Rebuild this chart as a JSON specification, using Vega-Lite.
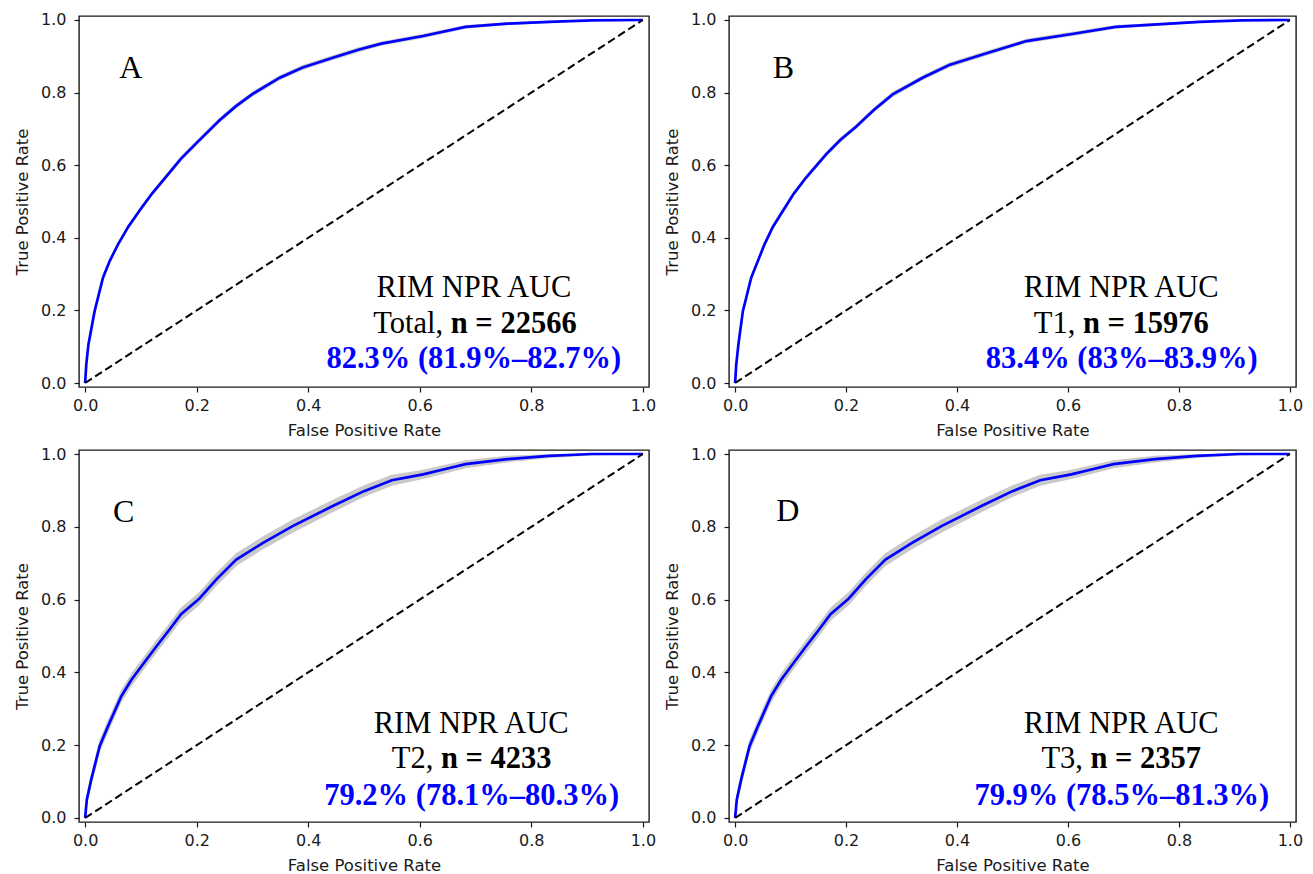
{
  "$schema": "https://vega.github.io/schema/vega-lite/v6.json",
  "background": "white",
  "padding": {"left": 13, "top": 11, "right": 5, "bottom": 5},
  "bounds": "flush",
  "columns": 2,
  "spacing": {"row": 63, "column": 80},
  "config": {
    "font": "DejaVu Sans",
    "view": {"stroke": "#1a1a1a", "strokeWidth": 1.4},
    "axis": {"grid": false, "domain": false, "ticks": true, "tickColor": "#1a1a1a", "tickSize": 5, "tickWidth": 1.2, "labelFont": "DejaVu Sans", "labelFontSize": 16, "labelColor": "#1a1a1a", "labelFlush": false, "labelOverlap": false, "titleFont": "DejaVu Sans", "titleFontSize": 16.5, "titleFontWeight": "normal", "titleColor": "#1a1a1a"},
    "axisX": {"labelPadding": 5, "titlePadding": 9},
    "axisY": {"labelPadding": 8, "titlePadding": 10},
    "text": {"font": "Liberation Serif"}
  },
  "datasets": {
    "roc": [
      {"panel": "A", "fpr": 0, "tpr": 0, "lo": 0, "hi": 0.005},
      {"panel": "A", "fpr": 0.002, "tpr": 0.05, "lo": 0.043, "hi": 0.057},
      {"panel": "A", "fpr": 0.006, "tpr": 0.107, "lo": 0.1, "hi": 0.114},
      {"panel": "A", "fpr": 0.017, "tpr": 0.198, "lo": 0.191, "hi": 0.205},
      {"panel": "A", "fpr": 0.032, "tpr": 0.29, "lo": 0.283, "hi": 0.297},
      {"panel": "A", "fpr": 0.044, "tpr": 0.336, "lo": 0.329, "hi": 0.343},
      {"panel": "A", "fpr": 0.059, "tpr": 0.382, "lo": 0.375, "hi": 0.389},
      {"panel": "A", "fpr": 0.078, "tpr": 0.432, "lo": 0.425, "hi": 0.439},
      {"panel": "A", "fpr": 0.098, "tpr": 0.476, "lo": 0.469, "hi": 0.483},
      {"panel": "A", "fpr": 0.12, "tpr": 0.522, "lo": 0.515, "hi": 0.529},
      {"panel": "A", "fpr": 0.146, "tpr": 0.57, "lo": 0.563, "hi": 0.577},
      {"panel": "A", "fpr": 0.172, "tpr": 0.618, "lo": 0.611, "hi": 0.625},
      {"panel": "A", "fpr": 0.199, "tpr": 0.66, "lo": 0.653, "hi": 0.667},
      {"panel": "A", "fpr": 0.241, "tpr": 0.724, "lo": 0.717, "hi": 0.731},
      {"panel": "A", "fpr": 0.27, "tpr": 0.762, "lo": 0.755, "hi": 0.769},
      {"panel": "A", "fpr": 0.301, "tpr": 0.797, "lo": 0.79, "hi": 0.804},
      {"panel": "A", "fpr": 0.349, "tpr": 0.841, "lo": 0.834, "hi": 0.848},
      {"panel": "A", "fpr": 0.39, "tpr": 0.869, "lo": 0.862, "hi": 0.876},
      {"panel": "A", "fpr": 0.444, "tpr": 0.896, "lo": 0.889, "hi": 0.903},
      {"panel": "A", "fpr": 0.49, "tpr": 0.918, "lo": 0.911, "hi": 0.925},
      {"panel": "A", "fpr": 0.531, "tpr": 0.935, "lo": 0.929, "hi": 0.941},
      {"panel": "A", "fpr": 0.606, "tpr": 0.956, "lo": 0.95, "hi": 0.962},
      {"panel": "A", "fpr": 0.682, "tpr": 0.981, "lo": 0.976, "hi": 0.986},
      {"panel": "A", "fpr": 0.757, "tpr": 0.99, "lo": 0.986, "hi": 0.994},
      {"panel": "A", "fpr": 0.832, "tpr": 0.995, "lo": 0.992, "hi": 0.998},
      {"panel": "A", "fpr": 0.908, "tpr": 0.999, "lo": 0.997, "hi": 1.0},
      {"panel": "A", "fpr": 1, "tpr": 1, "lo": 1, "hi": 1},
      {"panel": "B", "fpr": 0, "tpr": 0, "lo": 0, "hi": 0.005},
      {"panel": "B", "fpr": 0.002, "tpr": 0.05, "lo": 0.043, "hi": 0.057},
      {"panel": "B", "fpr": 0.006, "tpr": 0.107, "lo": 0.1, "hi": 0.114},
      {"panel": "B", "fpr": 0.014, "tpr": 0.198, "lo": 0.191, "hi": 0.205},
      {"panel": "B", "fpr": 0.029, "tpr": 0.29, "lo": 0.283, "hi": 0.297},
      {"panel": "B", "fpr": 0.053, "tpr": 0.382, "lo": 0.375, "hi": 0.389},
      {"panel": "B", "fpr": 0.068, "tpr": 0.43, "lo": 0.423, "hi": 0.437},
      {"panel": "B", "fpr": 0.086, "tpr": 0.474, "lo": 0.467, "hi": 0.481},
      {"panel": "B", "fpr": 0.105, "tpr": 0.52, "lo": 0.513, "hi": 0.527},
      {"panel": "B", "fpr": 0.128, "tpr": 0.566, "lo": 0.559, "hi": 0.573},
      {"panel": "B", "fpr": 0.164, "tpr": 0.63, "lo": 0.623, "hi": 0.637},
      {"panel": "B", "fpr": 0.19, "tpr": 0.67, "lo": 0.663, "hi": 0.677},
      {"panel": "B", "fpr": 0.218, "tpr": 0.706, "lo": 0.699, "hi": 0.713},
      {"panel": "B", "fpr": 0.25, "tpr": 0.752, "lo": 0.745, "hi": 0.759},
      {"panel": "B", "fpr": 0.284, "tpr": 0.795, "lo": 0.788, "hi": 0.802},
      {"panel": "B", "fpr": 0.338, "tpr": 0.841, "lo": 0.834, "hi": 0.848},
      {"panel": "B", "fpr": 0.386, "tpr": 0.876, "lo": 0.869, "hi": 0.883},
      {"panel": "B", "fpr": 0.446, "tpr": 0.905, "lo": 0.898, "hi": 0.912},
      {"panel": "B", "fpr": 0.525, "tpr": 0.942, "lo": 0.936, "hi": 0.948},
      {"panel": "B", "fpr": 0.61, "tpr": 0.962, "lo": 0.956, "hi": 0.968},
      {"panel": "B", "fpr": 0.686, "tpr": 0.981, "lo": 0.976, "hi": 0.986},
      {"panel": "B", "fpr": 0.761, "tpr": 0.988, "lo": 0.984, "hi": 0.992},
      {"panel": "B", "fpr": 0.837, "tpr": 0.995, "lo": 0.992, "hi": 0.998},
      {"panel": "B", "fpr": 0.913, "tpr": 0.999, "lo": 0.997, "hi": 1.0},
      {"panel": "B", "fpr": 1, "tpr": 1, "lo": 1, "hi": 1},
      {"panel": "C", "fpr": 0, "tpr": 0, "lo": 0, "hi": 0.012},
      {"panel": "C", "fpr": 0.003, "tpr": 0.05, "lo": 0.032, "hi": 0.068},
      {"panel": "C", "fpr": 0.011, "tpr": 0.106, "lo": 0.088, "hi": 0.124},
      {"panel": "C", "fpr": 0.026, "tpr": 0.197, "lo": 0.179, "hi": 0.215},
      {"panel": "C", "fpr": 0.041, "tpr": 0.252, "lo": 0.234, "hi": 0.27},
      {"panel": "C", "fpr": 0.065, "tpr": 0.335, "lo": 0.317, "hi": 0.353},
      {"panel": "C", "fpr": 0.083, "tpr": 0.38, "lo": 0.362, "hi": 0.398},
      {"panel": "C", "fpr": 0.105, "tpr": 0.425, "lo": 0.407, "hi": 0.443},
      {"panel": "C", "fpr": 0.128, "tpr": 0.472, "lo": 0.454, "hi": 0.49},
      {"panel": "C", "fpr": 0.15, "tpr": 0.515, "lo": 0.497, "hi": 0.533},
      {"panel": "C", "fpr": 0.172, "tpr": 0.56, "lo": 0.542, "hi": 0.578},
      {"panel": "C", "fpr": 0.205, "tpr": 0.603, "lo": 0.585, "hi": 0.621},
      {"panel": "C", "fpr": 0.235, "tpr": 0.655, "lo": 0.637, "hi": 0.673},
      {"panel": "C", "fpr": 0.271, "tpr": 0.71, "lo": 0.692, "hi": 0.728},
      {"panel": "C", "fpr": 0.319, "tpr": 0.756, "lo": 0.738, "hi": 0.774},
      {"panel": "C", "fpr": 0.372, "tpr": 0.802, "lo": 0.784, "hi": 0.82},
      {"panel": "C", "fpr": 0.444, "tpr": 0.857, "lo": 0.84, "hi": 0.874},
      {"panel": "C", "fpr": 0.5, "tpr": 0.898, "lo": 0.882, "hi": 0.914},
      {"panel": "C", "fpr": 0.55, "tpr": 0.928, "lo": 0.913, "hi": 0.943},
      {"panel": "C", "fpr": 0.606, "tpr": 0.944, "lo": 0.931, "hi": 0.957},
      {"panel": "C", "fpr": 0.644, "tpr": 0.958, "lo": 0.946, "hi": 0.97},
      {"panel": "C", "fpr": 0.682, "tpr": 0.972, "lo": 0.961, "hi": 0.983},
      {"panel": "C", "fpr": 0.757, "tpr": 0.986, "lo": 0.977, "hi": 0.995},
      {"panel": "C", "fpr": 0.832, "tpr": 0.995, "lo": 0.989, "hi": 1.0},
      {"panel": "C", "fpr": 0.908, "tpr": 1.0, "lo": 0.996, "hi": 1.0},
      {"panel": "C", "fpr": 1, "tpr": 1, "lo": 1, "hi": 1},
      {"panel": "D", "fpr": 0, "tpr": 0, "lo": 0, "hi": 0.012},
      {"panel": "D", "fpr": 0.003, "tpr": 0.05, "lo": 0.032, "hi": 0.068},
      {"panel": "D", "fpr": 0.011, "tpr": 0.106, "lo": 0.088, "hi": 0.124},
      {"panel": "D", "fpr": 0.026, "tpr": 0.197, "lo": 0.179, "hi": 0.215},
      {"panel": "D", "fpr": 0.041, "tpr": 0.252, "lo": 0.234, "hi": 0.27},
      {"panel": "D", "fpr": 0.065, "tpr": 0.335, "lo": 0.317, "hi": 0.353},
      {"panel": "D", "fpr": 0.083, "tpr": 0.38, "lo": 0.362, "hi": 0.398},
      {"panel": "D", "fpr": 0.105, "tpr": 0.425, "lo": 0.407, "hi": 0.443},
      {"panel": "D", "fpr": 0.128, "tpr": 0.472, "lo": 0.454, "hi": 0.49},
      {"panel": "D", "fpr": 0.15, "tpr": 0.515, "lo": 0.497, "hi": 0.533},
      {"panel": "D", "fpr": 0.172, "tpr": 0.56, "lo": 0.542, "hi": 0.578},
      {"panel": "D", "fpr": 0.205, "tpr": 0.603, "lo": 0.585, "hi": 0.621},
      {"panel": "D", "fpr": 0.235, "tpr": 0.655, "lo": 0.637, "hi": 0.673},
      {"panel": "D", "fpr": 0.271, "tpr": 0.71, "lo": 0.692, "hi": 0.728},
      {"panel": "D", "fpr": 0.319, "tpr": 0.756, "lo": 0.738, "hi": 0.774},
      {"panel": "D", "fpr": 0.372, "tpr": 0.802, "lo": 0.784, "hi": 0.82},
      {"panel": "D", "fpr": 0.444, "tpr": 0.857, "lo": 0.84, "hi": 0.874},
      {"panel": "D", "fpr": 0.5, "tpr": 0.898, "lo": 0.882, "hi": 0.914},
      {"panel": "D", "fpr": 0.55, "tpr": 0.928, "lo": 0.913, "hi": 0.943},
      {"panel": "D", "fpr": 0.606, "tpr": 0.944, "lo": 0.931, "hi": 0.957},
      {"panel": "D", "fpr": 0.644, "tpr": 0.958, "lo": 0.946, "hi": 0.97},
      {"panel": "D", "fpr": 0.682, "tpr": 0.972, "lo": 0.961, "hi": 0.983},
      {"panel": "D", "fpr": 0.757, "tpr": 0.986, "lo": 0.977, "hi": 0.995},
      {"panel": "D", "fpr": 0.832, "tpr": 0.995, "lo": 0.989, "hi": 1.0},
      {"panel": "D", "fpr": 0.908, "tpr": 1.0, "lo": 0.996, "hi": 1.0},
      {"panel": "D", "fpr": 1, "tpr": 1, "lo": 1, "hi": 1}
    ],
    "diag": [{"fpr": 0, "tpr": 0}, {"fpr": 1, "tpr": 1}],
    "notes": [
      {"panel": "A", "letter": "A", "head": "RIM NPR AUC", "group": "Total,", "n": "n = 22566", "auc": "82.3% (81.9%–82.7%)"},
      {"panel": "B", "letter": "B", "head": "RIM NPR AUC", "group": "T1,", "n": "n = 15976", "auc": "83.4% (83%–83.9%)"},
      {"panel": "C", "letter": "C", "head": "RIM NPR AUC", "group": "T2,", "n": "n = 4233", "auc": "79.2% (78.1%–80.3%)"},
      {"panel": "D", "letter": "D", "head": "RIM NPR AUC", "group": "T3,", "n": "n = 2357", "auc": "79.9% (78.5%–81.3%)"}
    ]
  },
  "concat": [
    {
      "width": 570, "height": 371,
      "layer": [
        {"data": {"name": "roc"}, "transform": [{"filter": "datum.panel === 'A'"}], "mark": {"type": "area", "color": "#bfbfbf", "opacity": 0.85},
         "encoding": {
           "x": {"field": "fpr", "type": "quantitative", "scale": {"domain": [-0.011, 1.011], "nice": false, "zero": false}, "axis": {"title": "False Positive Rate", "values": [0, 0.2, 0.4, 0.6, 0.8, 1], "format": ".1f"}},
           "y": {"field": "lo", "type": "quantitative", "scale": {"domain": [-0.011, 1.011], "nice": false, "zero": false}, "axis": {"title": "True Positive Rate", "values": [0, 0.2, 0.4, 0.6, 0.8, 1], "format": ".1f"}}, "y2": {"field": "hi"}}},
        {"data": {"name": "roc"}, "transform": [{"filter": "datum.panel === 'A'"}], "mark": {"type": "line", "color": "#0000ff", "strokeWidth": 2.7},
         "encoding": {"x": {"field": "fpr", "type": "quantitative"}, "y": {"field": "tpr", "type": "quantitative"}}},
        {"data": {"name": "diag"}, "mark": {"type": "line", "color": "#000000", "strokeWidth": 2, "strokeDash": [8, 4]},
         "encoding": {"x": {"field": "fpr", "type": "quantitative"}, "y": {"field": "tpr", "type": "quantitative"}}},
        {"data": {"name": "notes"}, "transform": [{"filter": "datum.panel === 'A'"}], "mark": {"type": "text", "fontSize": 32, "align": "center", "baseline": "alphabetic", "color": "#000"},
         "encoding": {"x": {"datum": 0.082, "type": "quantitative"}, "y": {"datum": 0.84, "type": "quantitative"}, "text": {"field": "letter"}}},
        {"data": {"name": "notes"}, "transform": [{"filter": "datum.panel === 'A'"}], "mark": {"type": "text", "fontSize": 30.5, "align": "center", "baseline": "alphabetic", "color": "#000"},
         "encoding": {"x": {"datum": 0.697, "type": "quantitative"}, "y": {"datum": 0.236, "type": "quantitative"}, "text": {"field": "head"}}},
        {"data": {"name": "notes"}, "transform": [{"filter": "datum.panel === 'A'"}], "mark": {"type": "text", "fontSize": 30.5, "align": "right", "baseline": "alphabetic", "color": "#000"},
         "encoding": {"x": {"datum": 0.642, "type": "quantitative"}, "y": {"datum": 0.139, "type": "quantitative"}, "text": {"field": "group"}}},
        {"data": {"name": "notes"}, "transform": [{"filter": "datum.panel === 'A'"}], "mark": {"type": "text", "fontSize": 30.5, "fontWeight": "bold", "align": "left", "baseline": "alphabetic", "color": "#000"},
         "encoding": {"x": {"datum": 0.6556, "type": "quantitative"}, "y": {"datum": 0.139, "type": "quantitative"}, "text": {"field": "n"}}},
        {"data": {"name": "notes"}, "transform": [{"filter": "datum.panel === 'A'"}], "mark": {"type": "text", "fontSize": 30.5, "fontWeight": "bold", "align": "center", "baseline": "alphabetic", "color": "#0000ff"},
         "encoding": {"x": {"datum": 0.697, "type": "quantitative"}, "y": {"datum": 0.04, "type": "quantitative"}, "text": {"field": "auc"}}}
      ]
    },
    {
      "width": 567, "height": 371,
      "layer": [
        {"data": {"name": "roc"}, "transform": [{"filter": "datum.panel === 'B'"}], "mark": {"type": "area", "color": "#bfbfbf", "opacity": 0.85},
         "encoding": {
           "x": {"field": "fpr", "type": "quantitative", "scale": {"domain": [-0.011, 1.011], "nice": false, "zero": false}, "axis": {"title": "False Positive Rate", "values": [0, 0.2, 0.4, 0.6, 0.8, 1], "format": ".1f"}},
           "y": {"field": "lo", "type": "quantitative", "scale": {"domain": [-0.011, 1.011], "nice": false, "zero": false}, "axis": {"title": "True Positive Rate", "values": [0, 0.2, 0.4, 0.6, 0.8, 1], "format": ".1f"}}, "y2": {"field": "hi"}}},
        {"data": {"name": "roc"}, "transform": [{"filter": "datum.panel === 'B'"}], "mark": {"type": "line", "color": "#0000ff", "strokeWidth": 2.7},
         "encoding": {"x": {"field": "fpr", "type": "quantitative"}, "y": {"field": "tpr", "type": "quantitative"}}},
        {"data": {"name": "diag"}, "mark": {"type": "line", "color": "#000000", "strokeWidth": 2, "strokeDash": [8, 4]},
         "encoding": {"x": {"field": "fpr", "type": "quantitative"}, "y": {"field": "tpr", "type": "quantitative"}}},
        {"data": {"name": "notes"}, "transform": [{"filter": "datum.panel === 'B'"}], "mark": {"type": "text", "fontSize": 32, "align": "center", "baseline": "alphabetic", "color": "#000"},
         "encoding": {"x": {"datum": 0.087, "type": "quantitative"}, "y": {"datum": 0.84, "type": "quantitative"}, "text": {"field": "letter"}}},
        {"data": {"name": "notes"}, "transform": [{"filter": "datum.panel === 'B'"}], "mark": {"type": "text", "fontSize": 30.5, "align": "center", "baseline": "alphabetic", "color": "#000"},
         "encoding": {"x": {"datum": 0.696, "type": "quantitative"}, "y": {"datum": 0.236, "type": "quantitative"}, "text": {"field": "head"}}},
        {"data": {"name": "notes"}, "transform": [{"filter": "datum.panel === 'B'"}], "mark": {"type": "text", "fontSize": 30.5, "align": "right", "baseline": "alphabetic", "color": "#000"},
         "encoding": {"x": {"datum": 0.6132, "type": "quantitative"}, "y": {"datum": 0.139, "type": "quantitative"}, "text": {"field": "group"}}},
        {"data": {"name": "notes"}, "transform": [{"filter": "datum.panel === 'B'"}], "mark": {"type": "text", "fontSize": 30.5, "fontWeight": "bold", "align": "left", "baseline": "alphabetic", "color": "#000"},
         "encoding": {"x": {"datum": 0.6269, "type": "quantitative"}, "y": {"datum": 0.139, "type": "quantitative"}, "text": {"field": "n"}}},
        {"data": {"name": "notes"}, "transform": [{"filter": "datum.panel === 'B'"}], "mark": {"type": "text", "fontSize": 30.5, "fontWeight": "bold", "align": "center", "baseline": "alphabetic", "color": "#0000ff"},
         "encoding": {"x": {"datum": 0.697, "type": "quantitative"}, "y": {"datum": 0.04, "type": "quantitative"}, "text": {"field": "auc"}}}
      ]
    },
    {
      "width": 570, "height": 372,
      "layer": [
        {"data": {"name": "roc"}, "transform": [{"filter": "datum.panel === 'C'"}], "mark": {"type": "area", "color": "#bfbfbf", "opacity": 0.85},
         "encoding": {
           "x": {"field": "fpr", "type": "quantitative", "scale": {"domain": [-0.011, 1.011], "nice": false, "zero": false}, "axis": {"title": "False Positive Rate", "values": [0, 0.2, 0.4, 0.6, 0.8, 1], "format": ".1f"}},
           "y": {"field": "lo", "type": "quantitative", "scale": {"domain": [-0.011, 1.011], "nice": false, "zero": false}, "axis": {"title": "True Positive Rate", "values": [0, 0.2, 0.4, 0.6, 0.8, 1], "format": ".1f"}}, "y2": {"field": "hi"}}},
        {"data": {"name": "roc"}, "transform": [{"filter": "datum.panel === 'C'"}], "mark": {"type": "line", "color": "#0000ff", "strokeWidth": 2.7},
         "encoding": {"x": {"field": "fpr", "type": "quantitative"}, "y": {"field": "tpr", "type": "quantitative"}}},
        {"data": {"name": "diag"}, "mark": {"type": "line", "color": "#000000", "strokeWidth": 2, "strokeDash": [8, 4]},
         "encoding": {"x": {"field": "fpr", "type": "quantitative"}, "y": {"field": "tpr", "type": "quantitative"}}},
        {"data": {"name": "notes"}, "transform": [{"filter": "datum.panel === 'C'"}], "mark": {"type": "text", "fontSize": 32, "align": "center", "baseline": "alphabetic", "color": "#000"},
         "encoding": {"x": {"datum": 0.069, "type": "quantitative"}, "y": {"datum": 0.813, "type": "quantitative"}, "text": {"field": "letter"}}},
        {"data": {"name": "notes"}, "transform": [{"filter": "datum.panel === 'C'"}], "mark": {"type": "text", "fontSize": 30.5, "align": "center", "baseline": "alphabetic", "color": "#000"},
         "encoding": {"x": {"datum": 0.692, "type": "quantitative"}, "y": {"datum": 0.234, "type": "quantitative"}, "text": {"field": "head"}}},
        {"data": {"name": "notes"}, "transform": [{"filter": "datum.panel === 'C'"}], "mark": {"type": "text", "fontSize": 30.5, "align": "right", "baseline": "alphabetic", "color": "#000"},
         "encoding": {"x": {"datum": 0.6243, "type": "quantitative"}, "y": {"datum": 0.138, "type": "quantitative"}, "text": {"field": "group"}}},
        {"data": {"name": "notes"}, "transform": [{"filter": "datum.panel === 'C'"}], "mark": {"type": "text", "fontSize": 30.5, "fontWeight": "bold", "align": "left", "baseline": "alphabetic", "color": "#000"},
         "encoding": {"x": {"datum": 0.6379, "type": "quantitative"}, "y": {"datum": 0.138, "type": "quantitative"}, "text": {"field": "n"}}},
        {"data": {"name": "notes"}, "transform": [{"filter": "datum.panel === 'C'"}], "mark": {"type": "text", "fontSize": 30.5, "fontWeight": "bold", "align": "center", "baseline": "alphabetic", "color": "#0000ff"},
         "encoding": {"x": {"datum": 0.693, "type": "quantitative"}, "y": {"datum": 0.037, "type": "quantitative"}, "text": {"field": "auc"}}}
      ]
    },
    {
      "width": 567, "height": 372,
      "layer": [
        {"data": {"name": "roc"}, "transform": [{"filter": "datum.panel === 'D'"}], "mark": {"type": "area", "color": "#bfbfbf", "opacity": 0.85},
         "encoding": {
           "x": {"field": "fpr", "type": "quantitative", "scale": {"domain": [-0.011, 1.011], "nice": false, "zero": false}, "axis": {"title": "False Positive Rate", "values": [0, 0.2, 0.4, 0.6, 0.8, 1], "format": ".1f"}},
           "y": {"field": "lo", "type": "quantitative", "scale": {"domain": [-0.011, 1.011], "nice": false, "zero": false}, "axis": {"title": "True Positive Rate", "values": [0, 0.2, 0.4, 0.6, 0.8, 1], "format": ".1f"}}, "y2": {"field": "hi"}}},
        {"data": {"name": "roc"}, "transform": [{"filter": "datum.panel === 'D'"}], "mark": {"type": "line", "color": "#0000ff", "strokeWidth": 2.7},
         "encoding": {"x": {"field": "fpr", "type": "quantitative"}, "y": {"field": "tpr", "type": "quantitative"}}},
        {"data": {"name": "diag"}, "mark": {"type": "line", "color": "#000000", "strokeWidth": 2, "strokeDash": [8, 4]},
         "encoding": {"x": {"field": "fpr", "type": "quantitative"}, "y": {"field": "tpr", "type": "quantitative"}}},
        {"data": {"name": "notes"}, "transform": [{"filter": "datum.panel === 'D'"}], "mark": {"type": "text", "fontSize": 32, "align": "center", "baseline": "alphabetic", "color": "#000"},
         "encoding": {"x": {"datum": 0.095, "type": "quantitative"}, "y": {"datum": 0.816, "type": "quantitative"}, "text": {"field": "letter"}}},
        {"data": {"name": "notes"}, "transform": [{"filter": "datum.panel === 'D'"}], "mark": {"type": "text", "fontSize": 30.5, "align": "center", "baseline": "alphabetic", "color": "#000"},
         "encoding": {"x": {"datum": 0.696, "type": "quantitative"}, "y": {"datum": 0.234, "type": "quantitative"}, "text": {"field": "head"}}},
        {"data": {"name": "notes"}, "transform": [{"filter": "datum.panel === 'D'"}], "mark": {"type": "text", "fontSize": 30.5, "align": "right", "baseline": "alphabetic", "color": "#000"},
         "encoding": {"x": {"datum": 0.6269, "type": "quantitative"}, "y": {"datum": 0.138, "type": "quantitative"}, "text": {"field": "group"}}},
        {"data": {"name": "notes"}, "transform": [{"filter": "datum.panel === 'D'"}], "mark": {"type": "text", "fontSize": 30.5, "fontWeight": "bold", "align": "left", "baseline": "alphabetic", "color": "#000"},
         "encoding": {"x": {"datum": 0.6406, "type": "quantitative"}, "y": {"datum": 0.138, "type": "quantitative"}, "text": {"field": "n"}}},
        {"data": {"name": "notes"}, "transform": [{"filter": "datum.panel === 'D'"}], "mark": {"type": "text", "fontSize": 30.5, "fontWeight": "bold", "align": "center", "baseline": "alphabetic", "color": "#0000ff"},
         "encoding": {"x": {"datum": 0.697, "type": "quantitative"}, "y": {"datum": 0.037, "type": "quantitative"}, "text": {"field": "auc"}}}
      ]
    }
  ]
}
